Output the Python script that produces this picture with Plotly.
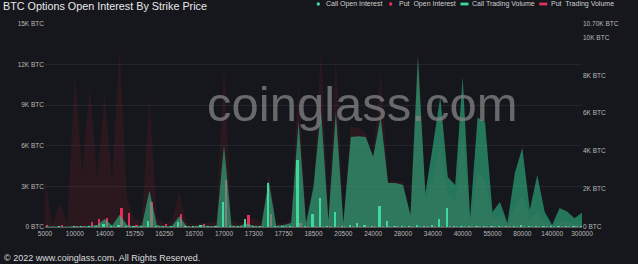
import plotly.graph_objects as go

strikes = ["5000","6000","8000","9000","10000","11000","12000","13000","14000","15000",
           "15250","15500","15750","16000","16100","16200","16250","16300","16400","16500",
           "16700","16750","16800","16900","17000","17100","17200","17250","17300","17400",
           "17500","17600","17750","18000","18200","18250","18500","19000","19500","20000",
           "20500","21000","22000","23000","24000","25000","26000","27000","28000","29000",
           "30000","32000","34000","35000","36000","38000","40000","45000","48000","50000",
           "55000","60000","65000","70000","80000","90000","100000","120000","140000","150000",
           "200000","250000","300000"]

tick_labels = ["5000","10000","14000","15750","16250","16700","17000","17300","17750","18500",
               "20500","24000","28000","34000","40000","55000","80000","140000","300000"]

# Open interest (left axis, BTC) - drawn as areas
call_oi = [50,30,40,30,80,60,100,150,600,120,
           900,150,60,120,2700,150,60,80,800,60,
           40,150,60,100,6060,120,80,250,100,80,
           3400,100,150,300,7800,300,3000,8650,500,8500,
           300,6650,6700,6650,5200,8150,3250,3250,3100,900,
           12600,2500,6000,9600,3700,3100,11100,700,8100,7750,
           1100,1850,300,4000,5850,1250,3850,1100,150,1400,
           1150,650,1050]
put_oi = [3700,200,1800,300,11300,3800,10600,3600,9800,3500,
          13200,2000,600,500,9700,700,300,400,2600,300,
          200,300,300,400,12100,500,300,400,700,300,
          4100,300,250,500,10900,300,2500,13200,400,12700,
          400,7400,7300,7000,5000,11600,3400,3400,3300,800,
          13300,2000,3500,6000,2500,1800,7000,400,4000,3500,
          600,900,200,1500,2500,500,1200,400,100,500,
          400,200,300]

# Trading volume (right axis, BTC) - drawn as bars
call_vol = [10,0,10,0,10,10,20,20,150,20,
            100,20,10,10,300,20,10,20,290,10,
            10,100,10,20,1330,20,10,400,20,10,
            2320,10,50,20,3530,40,700,1510,30,810,
            20,105,195,70,50,1100,300,20,50,20,
            70,20,70,400,1000,20,40,20,30,20,
            40,20,30,20,60,20,20,10,20,10,
            10,10,10]
put_vol = [120,0,70,0,20,20,250,440,450,30,
           985,755,70,20,1330,20,160,20,700,10,
           20,160,20,10,2480,20,30,650,20,10,
           700,10,30,20,190,20,40,50,20,40,
           10,20,30,10,10,30,20,10,10,10,
           20,10,10,20,30,10,20,10,10,10,
           10,10,10,10,20,10,10,10,10,10,
           10,10,10]

oi_ticks = [0, 3000, 6000, 9000, 12000, 15000]
oi_text = ["0 BTC", "3K BTC", "6K BTC", "9K BTC", "12K BTC", "15K BTC"]
vol_ticks = [0, 2000, 4000, 6000, 8000, 10000, 10700]
vol_text = ["0 BTC", "2K BTC", "4K BTC", "6K BTC", "8K BTC", "10K BTC", "10.70K BTC"]

BG = "#16171c"
GREEN_AREA = "rgba(48,190,140,0.58)"
RED_AREA = "rgba(200,30,60,0.12)"
GREEN_BAR = "#3fd99b"
RED_BAR = "#e6305a"
FONT = "Liberation Sans, Arial, sans-serif"

fig = go.Figure()
fig.add_trace(go.Bar(x=strikes, y=put_vol, name="Put  Trading Volume", yaxis="y",
                     marker=dict(color=RED_BAR, line=dict(width=0)),
                     width=0.3, offset=0.12, showlegend=False))
fig.add_trace(go.Scatter(x=strikes, y=put_oi, name="Put  Open Interest", yaxis="y2",
                         mode="lines", line=dict(width=0, color=RED_AREA),
                         fill="tozeroy", fillcolor=RED_AREA, showlegend=False))
fig.add_trace(go.Scatter(x=strikes, y=call_oi, name="Call Open Interest", yaxis="y2",
                         mode="lines", line=dict(width=0, color=GREEN_AREA),
                         fill="tozeroy", fillcolor=GREEN_AREA, showlegend=False))
fig.add_trace(go.Bar(x=strikes, y=call_vol, name="Call Trading Volume", yaxis="y3",
                     marker=dict(color=GREEN_BAR, line=dict(width=0)),
                     width=0.3, offset=-0.3, showlegend=False))

L, R, T, B = 45, 56, 24, 37
W, H = 638, 264
PW, PH = W - L - R, H - T - B

def px(x):
    return (x - L) / PW

def py(y):
    return (H - B - y) / PH

shapes = [
    dict(type="circle", xref="paper", yref="paper", x0=px(316.6), x1=px(320), y0=py(2.3), y1=py(5.7),
         fillcolor="#3fd99b", line=dict(width=0)),
    dict(type="circle", xref="paper", yref="paper", x0=px(389), x1=px(392.4), y0=py(2.3), y1=py(5.7),
         fillcolor=RED_BAR, line=dict(width=0)),
    dict(type="rect", xref="paper", yref="paper", x0=px(460.5), x1=px(468.5), y0=py(2.6), y1=py(5.4),
         fillcolor="#3fd99b", line=dict(width=0)),
    dict(type="rect", xref="paper", yref="paper", x0=px(539.3), x1=px(547.3), y0=py(2.6), y1=py(5.4),
         fillcolor=RED_BAR, line=dict(width=0)),
]

legend_font = dict(family=FONT, size=7, color="#cfcfcf")
annotations = [
    dict(text="coinglass.com", xref="paper", yref="paper", x=px(362), y=py(104),
         xanchor="center", yanchor="middle", showarrow=False,
         font=dict(family=FONT, size=49, color="rgba(128,128,128,0.78)")),
    dict(text="© 2022 www.coinglass.com. All Rights Reserved.", xref="paper", yref="paper",
         x=px(1.5), y=py(258), xanchor="left", yanchor="middle", showarrow=False,
         font=dict(family=FONT, size=9, color="#dcdcdc")),
    dict(text="Call Open Interest", xref="paper", yref="paper", x=px(324), y=py(4),
         xanchor="left", yanchor="middle", showarrow=False, font=legend_font),
    dict(text="Put  Open Interest", xref="paper", yref="paper", x=px(396.5), y=py(4),
         xanchor="left", yanchor="middle", showarrow=False, font=legend_font),
    dict(text="Call Trading Volume", xref="paper", yref="paper", x=px(470), y=py(4),
         xanchor="left", yanchor="middle", showarrow=False, font=legend_font),
    dict(text="Put  Trading Volume", xref="paper", yref="paper", x=px(548.5), y=py(4),
         xanchor="left", yanchor="middle", showarrow=False, font=legend_font),
]

tick_font = dict(family=FONT, size=6.5, color="#b8b8b8")

fig.update_layout(
    width=W, height=H,
    margin=dict(l=L, r=R, t=T, b=B, pad=0),
    paper_bgcolor=BG, plot_bgcolor=BG,
    showlegend=False,
    title=dict(text="BTC Options Open Interest By Strike Price", x=3 / W, xanchor="left",
               xref="container", y=1 - 6.5 / H, yref="container", yanchor="middle",
               font=dict(family=FONT, size=10.8, color="#e8e8e8")),
    bargap=0,
    xaxis=dict(type="category", range=[0, len(strikes) - 1], tickmode="array",
               tickvals=tick_labels, ticktext=tick_labels, tickangle=0,
               showgrid=False, zeroline=False, showline=True, linecolor="#5a5a5a",
               linewidth=1, ticks="", tickfont=tick_font, fixedrange=True),
    yaxis=dict(range=[0, 10700], side="right", tickmode="array", tickvals=vol_ticks,
               ticktext=vol_text, showgrid=False, zeroline=False, showline=False,
               tickfont=tick_font, ticks=""),
    yaxis2=dict(range=[0, 15000], overlaying="y", side="left", tickmode="array",
                tickvals=oi_ticks, ticktext=oi_text, showgrid=True, gridcolor="#24252c",
                gridwidth=1, zeroline=False, showline=False, tickfont=tick_font, ticks=""),
    yaxis3=dict(range=[0, 10700], overlaying="y", visible=False),
    shapes=shapes,
    annotations=annotations,
)

fig.write_html("out.html")
